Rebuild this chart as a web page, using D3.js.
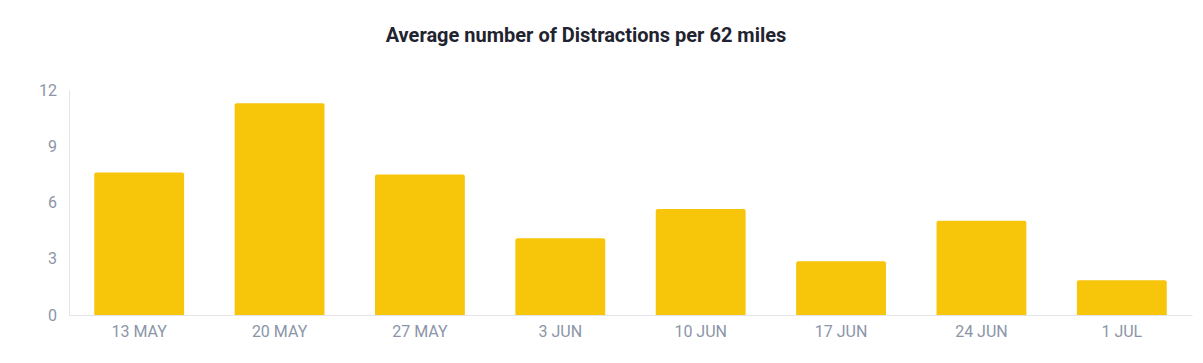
<!DOCTYPE html>
<html>
<head>
<meta charset="utf-8">
<script src="https://cdn.jsdelivr.net/npm/d3@7"></script>
<style>
  body { margin: 0; background: #fff; }
  svg { display: block; font-family: Roboto, "Noto Sans", sans-serif; }
</style>
</head>
<body>
<svg id="chart" width="1203" height="363"></svg>
<script>
// dữ liệu
const weeks = ["13 MAY", "20 MAY", "27 MAY", "3 JUN", "10 JUN", "17 JUN", "24 JUN", "1 JUL"];
const distractions = [7.6, 11.3, 7.5, 4.1, 5.65, 2.87, 5.03, 1.85];
const yTicks = [0, 3, 6, 9, 12];

const svg = d3.select("#chart"),
      margin = {top: 90, right: 11, bottom: 48, left: 69},
      width = +svg.attr("width") - margin.left - margin.right,
      height = +svg.attr("height") - margin.top - margin.bottom;

const g = svg.append("g")
  .attr("transform", `translate(${margin.left},${margin.top})`);

const x = d3.scaleBand()
  .domain(weeks)
  .range([0, width])
  .paddingInner(0.36)
  .paddingOuter(0.18);

const y = d3.scaleLinear()
  .domain([0, 12])
  .range([height, 0]);

// trục Y
const yAxis = g.append("g")
  .call(d3.axisLeft(y).tickValues(yTicks).tickSize(0).tickPadding(12));
yAxis.attr("font-family", null);
yAxis.select(".domain").attr("stroke", "#e3e5ea");
yAxis.selectAll("text")
  .attr("fill", "#8b95a8")
  .style("font-size", "16px");

// trục X
const xAxis = g.append("g")
  .attr("transform", `translate(0,${height})`)
  .call(d3.axisBottom(x).tickSize(0).tickPadding(11));
xAxis.attr("font-family", null);
xAxis.select(".domain").attr("stroke", "#e3e5ea");
xAxis.selectAll("text")
  .attr("fill", "#8b95a8")
  .style("font-size", "16px");

// cột
g.selectAll("path.bar")
  .data(weeks)
  .enter().append("path")
    .attr("class", "bar")
    .attr("fill", "#f7c509")
    .attr("d", (d, i) => {
      const x0 = x(d), w = x.bandwidth(), y0 = y(distractions[i]), r = 2;
      return `M${x0},${height}V${y0 + r}Q${x0},${y0} ${x0 + r},${y0}` +
             `H${x0 + w - r}Q${x0 + w},${y0} ${x0 + w},${y0 + r}V${height}Z`;
    });

// tiêu đề
svg.append("text")
  .attr("x", 586)
  .attr("y", 42)
  .attr("text-anchor", "middle")
  .attr("fill", "#1f2430")
  .style("font-size", "20px")
  .style("font-weight", "bold")
  .text("Average number of Distractions per 62 miles");
</script>
</body>
</html>
